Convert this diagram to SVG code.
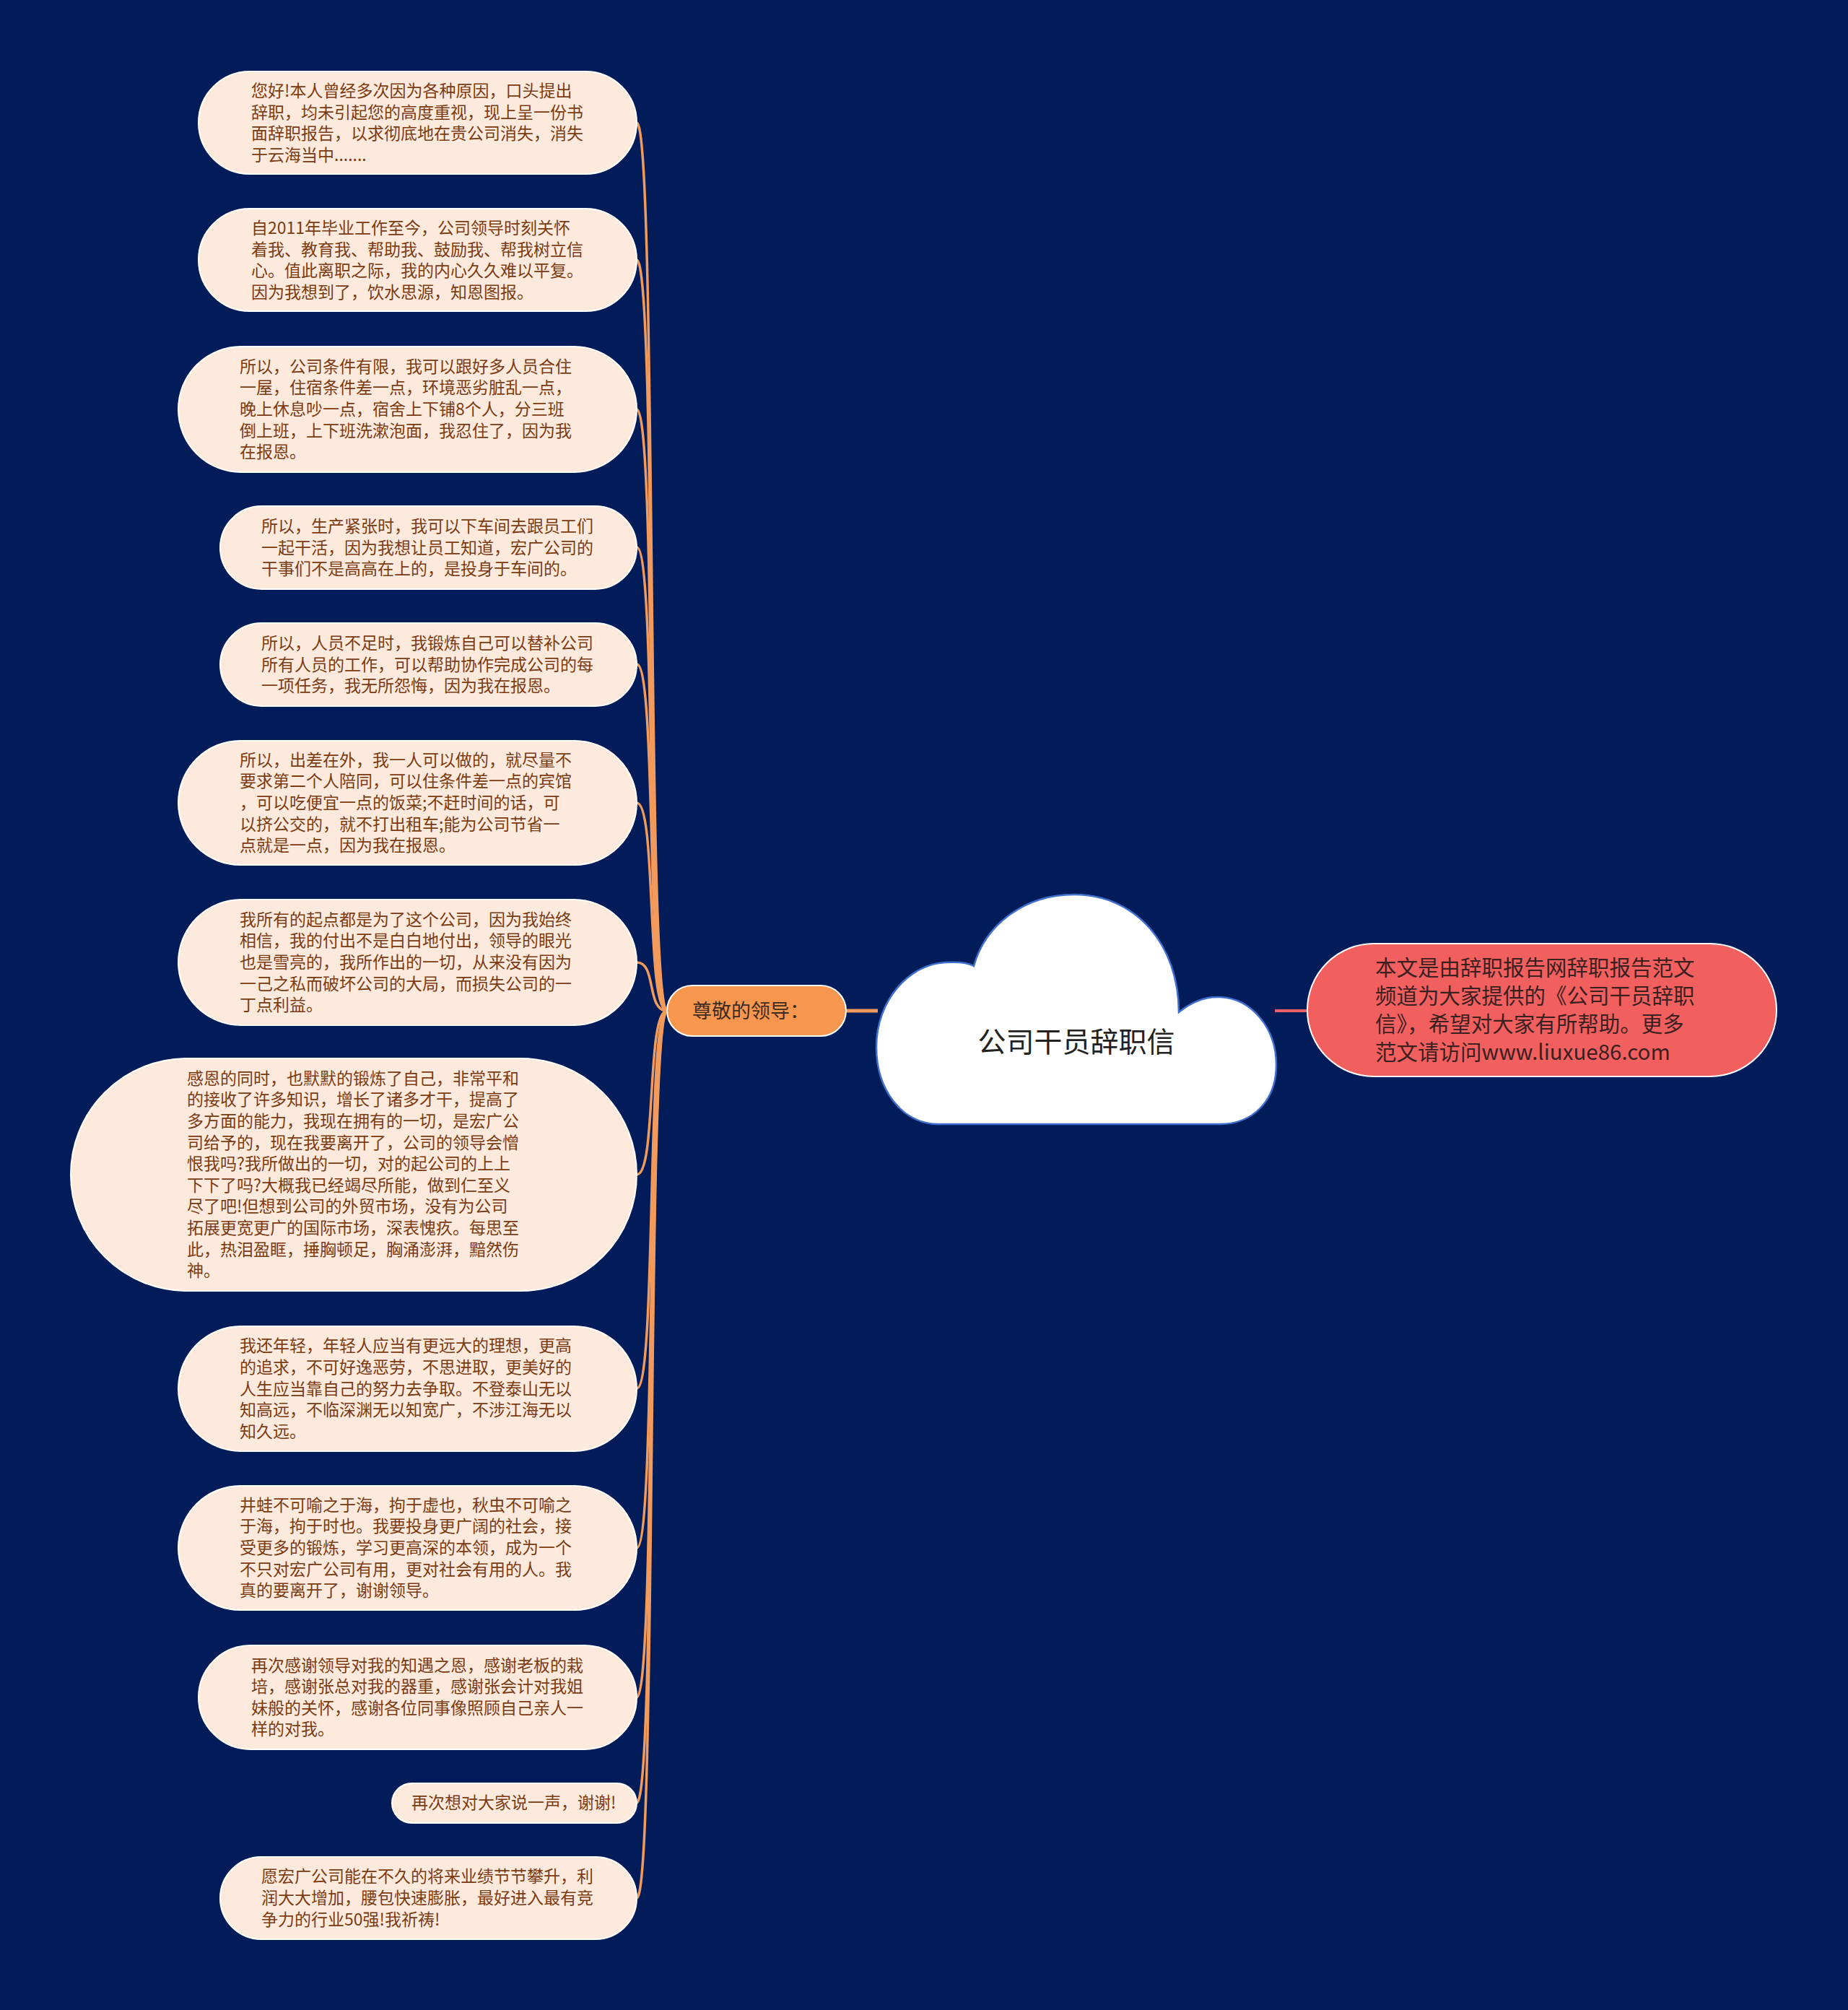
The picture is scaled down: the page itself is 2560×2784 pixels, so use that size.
<svg xmlns="http://www.w3.org/2000/svg" width="2560" height="2784" viewBox="0 0 2560 2784">
<style>
.leaf rect{fill:#FDEADD;stroke:#FFFFFF;stroke-width:2}
.leaf text{font-family:"Noto Sans CJK SC","Noto Sans",sans-serif;font-size:23px;fill:#7B3B12}
.conn{fill:none;stroke:#F29A5C;stroke-width:3.5}
</style>
<rect x="0" y="0" width="2560" height="2784" fill="#011C58"/>
<g id="connectors">
<path class="conn" d="M882 170 C910 170 895 1400 924 1400"/>
<path class="conn" d="M882 360 C910 360 895 1400 924 1400"/>
<path class="conn" d="M882 567 C910 567 895 1400 924 1400"/>
<path class="conn" d="M882 758 C910 758 895 1400 924 1400"/>
<path class="conn" d="M882 920 C910 920 895 1400 924 1400"/>
<path class="conn" d="M882 1112 C910 1112 895 1400 924 1400"/>
<path class="conn" d="M882 1333 C910 1333 895 1400 924 1400"/>
<path class="conn" d="M882 1627 C910 1627 895 1400 924 1400"/>
<path class="conn" d="M882 1923 C910 1923 895 1400 924 1400"/>
<path class="conn" d="M882 2144 C910 2144 895 1400 924 1400"/>
<path class="conn" d="M882 2351 C910 2351 895 1400 924 1400"/>
<path class="conn" d="M882 2497 C910 2497 895 1400 924 1400"/>
<path class="conn" d="M882 2629 C910 2629 895 1400 924 1400"/>
<line x1="1172" y1="1400" x2="1216" y2="1400" stroke="#F29A5C" stroke-width="5"/>
<line x1="1766" y1="1400" x2="1812" y2="1400" stroke="#E9606B" stroke-width="4"/>
</g>
<g id="root">
<path d="M1300 1557 C1250 1557 1214 1510 1214 1450 C1214 1385 1260 1335 1310 1333 C1328 1332 1342 1334 1349 1338 C1365 1280 1420 1239 1488 1239 C1575 1239 1633 1310 1633 1402 C1650 1388 1670 1380 1690 1381 C1735 1383 1768 1425 1768 1475 C1768 1525 1735 1557 1690 1557 Z" fill="#FFFFFF" stroke="#3E6FCC" stroke-width="2.5"/>
<text x="1491" y="1457" text-anchor="middle" font-family="Noto Sans CJK SC, Noto Sans, sans-serif" font-size="39" fill="#222222">公司干员辞职信</text>
</g>
<g id="branch">
<rect x="924" y="1365" width="248" height="70" rx="35" fill="#F7964F" stroke="#FFFFFF" stroke-width="2"/>
<text x="959" y="1410" font-family="Noto Sans CJK SC, Noto Sans, sans-serif" font-size="27" fill="#3D2B1F">尊敬的领导：</text>
</g>
<g id="note">
<rect x="1811" y="1307" width="650" height="184" rx="92" fill="#F25F5F" stroke="#FFFFFF" stroke-width="2"/>
<text font-family="Noto Sans CJK SC, Noto Sans, sans-serif" font-size="29.5" fill="#3B2020">
<tspan x="1905" y="1351">本文是由辞职报告网辞职报告范文</tspan>
<tspan x="1905" y="1390">频道为大家提供的《公司干员辞职</tspan>
<tspan x="1905" y="1429">信》，希望对大家有所帮助。更多</tspan>
<tspan x="1905" y="1468">范文请访问www.liuxue86.com</tspan>
</text>
</g>
<g id="leaf1" class="leaf">
<rect x="275" y="99" width="607" height="142" rx="71"/>
<text><tspan x="348" y="134">您好!本人曾经多次因为各种原因，口头提出</tspan><tspan x="348" y="163.6">辞职，均未引起您的高度重视，现上呈一份书</tspan><tspan x="348" y="193.2">面辞职报告，以求彻底地在贵公司消失，消失</tspan><tspan x="348" y="222.8">于云海当中.......</tspan></text>
</g>
<g id="leaf2" class="leaf">
<rect x="275" y="289" width="607" height="142" rx="71"/>
<text><tspan x="348" y="324">自2011年毕业工作至今，公司领导时刻关怀</tspan><tspan x="348" y="353.6">着我、教育我、帮助我、鼓励我、帮我树立信</tspan><tspan x="348" y="383.2">心。值此离职之际，我的内心久久难以平复。</tspan><tspan x="348" y="412.8">因为我想到了，饮水思源，知恩图报。</tspan></text>
</g>
<g id="leaf3" class="leaf">
<rect x="247" y="480" width="635" height="174" rx="87"/>
<text><tspan x="332" y="515.8">所以，公司条件有限，我可以跟好多人员合住</tspan><tspan x="332" y="545.4">一屋，住宿条件差一点，环境恶劣脏乱一点，</tspan><tspan x="332" y="575">晚上休息吵一点，宿舍上下铺8个人，分三班</tspan><tspan x="332" y="604.6">倒上班，上下班洗漱泡面，我忍住了，因为我</tspan><tspan x="332" y="634.2">在报恩。</tspan></text>
</g>
<g id="leaf4" class="leaf">
<rect x="305" y="701" width="577" height="115" rx="57.5"/>
<text><tspan x="362" y="736.9">所以，生产紧张时，我可以下车间去跟员工们</tspan><tspan x="362" y="766.5">一起干活，因为我想让员工知道，宏广公司的</tspan><tspan x="362" y="796.1">干事们不是高高在上的，是投身于车间的。</tspan></text>
</g>
<g id="leaf5" class="leaf">
<rect x="305" y="863" width="577" height="115" rx="57.5"/>
<text><tspan x="362" y="898.9">所以，人员不足时，我锻炼自己可以替补公司</tspan><tspan x="362" y="928.5">所有人员的工作，可以帮助协作完成公司的每</tspan><tspan x="362" y="958.1">一项任务，我无所怨悔，因为我在报恩。</tspan></text>
</g>
<g id="leaf6" class="leaf">
<rect x="247" y="1026" width="635" height="172" rx="86"/>
<text><tspan x="332" y="1060.8">所以，出差在外，我一人可以做的，就尽量不</tspan><tspan x="332" y="1090.4">要求第二个人陪同，可以住条件差一点的宾馆</tspan><tspan x="332" y="1120">，可以吃便宜一点的饭菜;不赶时间的话，可</tspan><tspan x="332" y="1149.6">以挤公交的，就不打出租车;能为公司节省一</tspan><tspan x="332" y="1179.2">点就是一点，因为我在报恩。</tspan></text>
</g>
<g id="leaf7" class="leaf">
<rect x="247" y="1246" width="635" height="174" rx="87"/>
<text><tspan x="332" y="1281.8">我所有的起点都是为了这个公司，因为我始终</tspan><tspan x="332" y="1311.4">相信，我的付出不是白白地付出，领导的眼光</tspan><tspan x="332" y="1341">也是雪亮的，我所作出的一切，从来没有因为</tspan><tspan x="332" y="1370.6">一己之私而破坏公司的大局，而损失公司的一</tspan><tspan x="332" y="1400.2">丁点利益。</tspan></text>
</g>
<g id="leaf8" class="leaf">
<rect x="98" y="1466" width="784" height="322" rx="161"/>
<text><tspan x="259" y="1501.8">感恩的同时，也默默的锻炼了自己，非常平和</tspan><tspan x="259" y="1531.4">的接收了许多知识，增长了诸多才干，提高了</tspan><tspan x="259" y="1561">多方面的能力，我现在拥有的一切，是宏广公</tspan><tspan x="259" y="1590.6">司给予的，现在我要离开了，公司的领导会憎</tspan><tspan x="259" y="1620.2">恨我吗?我所做出的一切，对的起公司的上上</tspan><tspan x="259" y="1649.8">下下了吗?大概我已经竭尽所能，做到仁至义</tspan><tspan x="259" y="1679.4">尽了吧!但想到公司的外贸市场，没有为公司</tspan><tspan x="259" y="1709">拓展更宽更广的国际市场，深表愧疚。每思至</tspan><tspan x="259" y="1738.6">此，热泪盈眶，捶胸顿足，胸涌澎湃，黯然伤</tspan><tspan x="259" y="1768.2">神。</tspan></text>
</g>
<g id="leaf9" class="leaf">
<rect x="247" y="1837" width="635" height="173" rx="86.5"/>
<text><tspan x="332" y="1872.3">我还年轻，年轻人应当有更远大的理想，更高</tspan><tspan x="332" y="1901.9">的追求，不可好逸恶劳，不思进取，更美好的</tspan><tspan x="332" y="1931.5">人生应当靠自己的努力去争取。不登泰山无以</tspan><tspan x="332" y="1961.1">知高远，不临深渊无以知宽广，不涉江海无以</tspan><tspan x="332" y="1990.7">知久远。</tspan></text>
</g>
<g id="leaf10" class="leaf">
<rect x="247" y="2058" width="635" height="172" rx="86"/>
<text><tspan x="332" y="2092.8">井蛙不可喻之于海，拘于虚也，秋虫不可喻之</tspan><tspan x="332" y="2122.4">于海，拘于时也。我要投身更广阔的社会，接</tspan><tspan x="332" y="2152">受更多的锻炼，学习更高深的本领，成为一个</tspan><tspan x="332" y="2181.6">不只对宏广公司有用，更对社会有用的人。我</tspan><tspan x="332" y="2211.2">真的要离开了，谢谢领导。</tspan></text>
</g>
<g id="leaf11" class="leaf">
<rect x="275" y="2279" width="607" height="144" rx="72"/>
<text><tspan x="348" y="2314.6">再次感谢领导对我的知遇之恩，感谢老板的栽</tspan><tspan x="348" y="2344.2">培，感谢张总对我的器重，感谢张会计对我姐</tspan><tspan x="348" y="2373.8">妹般的关怀，感谢各位同事像照顾自己亲人一</tspan><tspan x="348" y="2403.4">样的对我。</tspan></text>
</g>
<g id="leaf12" class="leaf">
<rect x="543" y="2470" width="339" height="55" rx="27.5"/>
<text x="570" y="2505">再次想对大家说一声，谢谢!</text>
</g>
<g id="leaf13" class="leaf">
<rect x="305" y="2572" width="577" height="114" rx="57"/>
<text><tspan x="362" y="2607.4">愿宏广公司能在不久的将来业绩节节攀升，利</tspan><tspan x="362" y="2637">润大大增加，腰包快速膨胀，最好进入最有竞</tspan><tspan x="362" y="2666.6">争力的行业50强!我祈祷!</tspan></text>
</g>
</svg>
